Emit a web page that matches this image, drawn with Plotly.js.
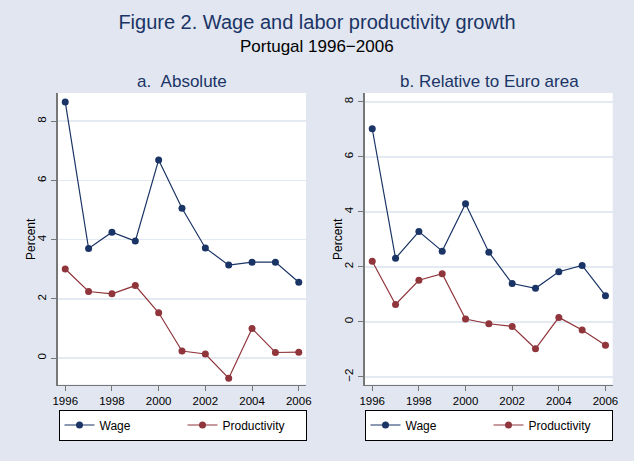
<!DOCTYPE html>
<html>
<head>
<meta charset="utf-8">
<script src="https://cdn.plot.ly/plotly-3.0.1.min.js"></script>
<style>html,body{margin:0;padding:0;background:#e1e6f0;}#chart{width:634px;height:461px;}</style>
</head>
<body>
<div id="chart"></div>
<script>
const years = [1996,1997,1998,1999,2000,2001,2002,2003,2004,2005,2006];
const wageAbs = [8.65,3.70,4.25,3.95,6.69,5.06,3.72,3.14,3.24,3.24,2.56];
const prodAbs = [3.01,2.25,2.17,2.45,1.53,0.24,0.14,-0.68,1.00,0.19,0.20];
const wageRel = [7.02,2.31,3.28,2.57,4.29,2.53,1.39,1.22,1.82,2.05,0.95];
const prodRel = [2.20,0.63,1.51,1.75,0.10,-0.07,-0.17,-0.98,0.16,-0.30,-0.85];
const xTicks = [1996,1998,2000,2002,2004,2006];
const yTicksA = [0,2,4,6,8];
const yTicksB = [-2,0,2,4,6,8];

const navy = '#1a3466';
const maroon = '#90353b';
const FONT = 'Liberation Sans, Arial, Helvetica, sans-serif';

function tr(x, y, name, color, xa, ya, lg) {
  return {x: x, y: y, name: name, type: 'scatter', mode: 'lines+markers',
    xaxis: xa, yaxis: ya, legend: lg,
    line: {color: color, width: 1.2},
    marker: {color: color, size: 7}};
}
const data = [
  tr(years, wageAbs, 'Wage', navy, 'x', 'y', 'legend'),
  tr(years, prodAbs, 'Productivity', maroon, 'x', 'y', 'legend'),
  tr(years, wageRel, 'Wage', navy, 'x2', 'y2', 'legend2'),
  tr(years, prodRel, 'Productivity', maroon, 'x2', 'y2', 'legend2')
];

function xax(dom, anchor) {
  return {domain: dom, anchor: anchor, range: [1995.69, 2006.31],
    tickvals: xTicks, ticks: 'outside', ticklen: 5, tickcolor: '#777', tickwidth: 1,
    showgrid: false, zeroline: false, showline: true, linecolor: '#777', linewidth: 1.5,
    tickfont: {family: FONT, size: 11.5, color: '#000'}, fixedrange: true, automargin: false};
}
function yax(dom, anchor, range, ticks) {
  return {domain: dom, anchor: anchor, range: range, tickvals: ticks,
    ticks: 'outside', ticklen: 5, tickcolor: '#777', tickwidth: 1, tickangle: -90,
    showgrid: true, gridcolor: '#e3eaf1', gridwidth: 1.5, zeroline: false,
    showline: true, linecolor: '#777', linewidth: 2,
    tickfont: {family: FONT, size: 11.5, color: '#000'},
    fixedrange: true, automargin: false};
}
function leg(xc) {
  return {orientation: 'h', x: xc, xanchor: 'center', y: 1 - 409.5/461, yanchor: 'top',
    bgcolor: '#ffffff', bordercolor: '#000', borderwidth: 1,
    font: {family: FONT, size: 12, color: '#000'}, entrywidth: 78, entrywidthmode: 'pixels',
    itemclick: false, itemdoubleclick: false};
}
function ann(text, xp, yp, size, color, angle) {
  return {text: text, xref: 'paper', yref: 'paper', x: xp / 634, y: 1 - yp / 461,
    xanchor: 'center', yanchor: 'middle', showarrow: false, textangle: angle || 0,
    font: {family: FONT, size: size, color: color}};
}

const yDom = [1 - 384.5/461, 1 - 93/461];
const layout = {
  width: 634, height: 461,
  margin: {l: 0, r: 0, t: 0, b: 0, autoexpand: false},
  paper_bgcolor: '#e1e6f0',
  plot_bgcolor: '#ffffff',
  font: {family: FONT},
  showlegend: true,
  title: {text: 'Figure 2. Wage and labor productivity growth', x: 0.5, xanchor: 'center',
    y: 1 - 21.5/461, yanchor: 'middle', font: {family: FONT, size: 20, color: navy}},
  xaxis: xax([58/634, 306/634], 'y'),
  yaxis: yax(yDom, 'x', [-0.89, 8.95], yTicksA),
  xaxis2: xax([365/634, 612.7/634], 'y2'),
  yaxis2: yax(yDom, 'x2', [-2.28, 8.32], yTicksB),
  legend: leg(182.5/634),
  legend2: leg(488.5/634),
  annotations: [
    ann('Portugal 1996\u22122006', 317, 47, 17, '#000'),
    ann('a.\u00a0\u00a0Absolute', 182, 81.5, 17, navy),
    ann('b. Relative to Euro area', 489, 81.5, 17, navy),
    ann('Percent', 31, 239, 12, '#000', -90),
    ann('Percent', 338, 239, 12, '#000', -90)
  ]
};
Plotly.newPlot('chart', data, layout, {displayModeBar: false, staticPlot: true});
</script>
</body>
</html>
